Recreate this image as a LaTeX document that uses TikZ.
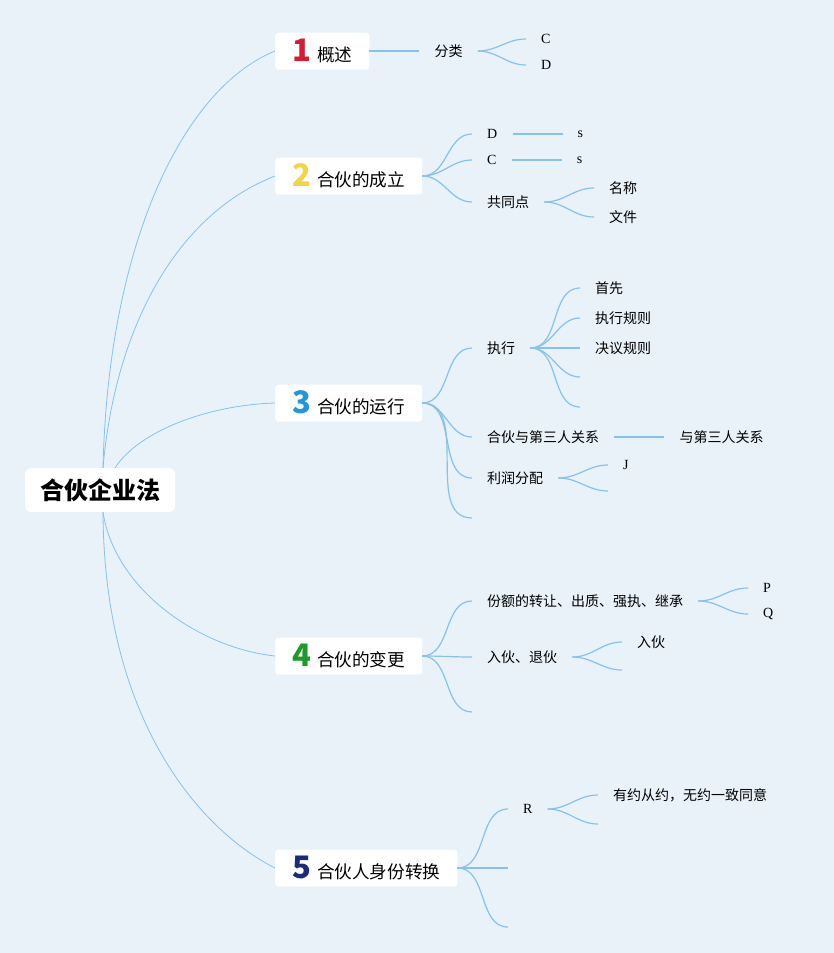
\documentclass[tikz,border=0pt]{standalone}
\usepackage{fontspec}
\setmainfont{Liberation Serif}
\newfontfamily\cjk{Noto Sans CJK SC}
\usepackage{xcolor}
\usetikzlibrary{positioning}
\definecolor{bg}{HTML}{E9F1F9}
\definecolor{linkblue}{HTML}{86C3E8}
\definecolor{numred}{HTML}{D61C33}
\definecolor{numyellow}{HTML}{F3D444}
\definecolor{numblue}{HTML}{2197DC}
\definecolor{numgreen}{HTML}{1E9A2B}
\definecolor{numnavy}{HTML}{1B2B7C}
\tikzstyle{link} = [draw=linkblue, line width=0.8pt]
\tikzstyle{twig} = [draw=linkblue, line width=1.2pt, out=0, in=180]
\newcommand{\topicnum}[2]{\textcolor{#1}{\bfseries\fontsize{31}{31}\selectfont #2}\hspace{6pt}}

\begin{document}
\begin{tikzpicture}[x=1pt,y=-1pt,node distance=50pt,
    root/.style={fill=white, rounded corners=6pt, minimum width=150pt, minimum height=44pt, inner sep=0pt, font=\cjk\bfseries\fontsize{24}{24}\selectfont},
    topic/.style={fill=white, rounded corners=3pt, minimum height=37pt, inner xsep=17pt, inner ysep=0pt, anchor=west, font=\cjk\fontsize{17.6}{18}\selectfont},
    leaf/.style={inner xsep=15pt, inner ysep=0pt, anchor=west, font=\cjk\fontsize{14}{14}\selectfont},
    latin/.style={leaf, font=\fontsize{14}{14}\selectfont}]
    \fill[bg] (0,0) rectangle (834,953);
    % main topics
    \node (root) [root] at (100,490) {合伙企业法};
    \node (b1) [topic] at (275,51) {\topicnum{numred}{1}概述};
    \node (b2) [topic] at (275,176) {\topicnum{numyellow}{2}合伙的成立};
    \node (b3) [topic] at (275,403) {\topicnum{numblue}{3}合伙的运行};
    \node (b4) [topic] at (275,656) {\topicnum{numgreen}{4}合伙的变更};
    \node (b5) [topic] at (275,868) {\topicnum{numnavy}{5}合伙人身份转换};
    % 概述
    \node (fenlei) [leaf, right=50pt of b1] {分类};
    \node (fenC) [latin] at (526,39) {C};
    \node (fenD) [latin] at (526,65) {D};
    % 合伙的成立
    \node (chD) [latin] at (472,134) {D};
    \node (chDs) [latin, right=50pt of chD] {s};
    \node (chC) [latin] at (472,160) {C};
    \node (chCs) [latin, right=50pt of chC] {s};
    \node (gtd) [leaf] at (472,202) {共同点};
    \node (mc) [leaf] at (594,188) {名称};
    \node (wj) [leaf] at (594,217) {文件};
    % 合伙的运行
    \node (zx) [leaf] at (472,348) {执行};
    \node (sx) [leaf] at (580,288) {首先};
    \node (zxgz) [leaf] at (580,318) {执行规则};
    \node (jygz) [leaf] at (580,348) {决议规则};
    \coordinate (zx4) at (580,377);
    \coordinate (zx5) at (580,407);
    \node (dsr) [leaf] at (472,437) {合伙与第三人关系};
    \node (ydsr) [leaf, right=50pt of dsr] {与第三人关系};
    \node (lr) [leaf] at (472,478) {利润分配};
    \node (lrJ) [latin] at (608,465) {J};
    \coordinate (lr2) at (608,491);
    \coordinate (yx4) at (472,518);
    % 合伙的变更
    \node (fe) [leaf] at (472,601) {份额的转让、出质、强执、继承};
    \node (feP) [latin] at (748,588) {P};
    \node (feQ) [latin] at (748,614) {Q};
    \node (rt) [leaf] at (472,657) {入伙、退伙};
    \node (rh) [leaf] at (622,642) {入伙};
    \coordinate (rt2) at (622,670);
    \coordinate (bg3) at (472,712);
    % 合伙人身份转换
    \node (R) [latin] at (508,809) {R};
    \node (yy) [leaf] at (598,795) {有约从约，无约一致同意};
    \coordinate (R2) at (598,824);
    \coordinate (zh2) at (508,868);
    \coordinate (zh3) at (508,927);
    % connect the topics
    \draw[link] ([xshift=3pt]root.north) .. controls +(5,-218) and +(-95,39) .. (b1.west);
    \draw[link] ([xshift=3pt]root.north) .. controls +(12,-138) and +(-100,39) .. (b2.west);
    \draw[link] ([xshift=15pt]root.north) .. controls +(25,-38) and +(-65,2) .. (b3.west);
    \draw[link] ([xshift=3pt]root.south) .. controls +(12,78) and +(-75,-8) .. (b4.west);
    \draw[link] ([xshift=3pt]root.south) .. controls +(1,208) and +(-75,-38) .. (b5.west);
    % connect the subtopics
    \draw[twig] (b1.east) to (fenlei.west);
    \draw[twig] (fenlei.east) to (fenC.west);
    \draw[twig] (fenlei.east) to (fenD.west);
    \draw[twig] (b2.east) to (chD.west);
    \draw[twig] (b2.east) to (chC.west);
    \draw[twig] (b2.east) to (gtd.west);
    \draw[twig] (chD.east) to (chDs.west);
    \draw[twig] (chC.east) to (chCs.west);
    \draw[twig] (gtd.east) to (mc.west);
    \draw[twig] (gtd.east) to (wj.west);
    \draw[twig] (b3.east) to (zx.west);
    \draw[twig] (b3.east) to (dsr.west);
    \draw[twig] (b3.east) to (lr.west);
    \draw[twig] (b3.east) to (yx4);
    \draw[twig] (zx.east) to (sx.west);
    \draw[twig] (zx.east) to (zxgz.west);
    \draw[twig] (zx.east) to (jygz.west);
    \draw[twig] (zx.east) to (zx4);
    \draw[twig] (zx.east) to (zx5);
    \draw[twig] (dsr.east) to (ydsr.west);
    \draw[twig] (lr.east) to (lrJ.west);
    \draw[twig] (lr.east) to (lr2);
    \draw[twig] (b4.east) to (fe.west);
    \draw[twig] (b4.east) to (rt.west);
    \draw[twig] (b4.east) to (bg3);
    \draw[twig] (fe.east) to (feP.west);
    \draw[twig] (fe.east) to (feQ.west);
    \draw[twig] (rt.east) to (rh.west);
    \draw[twig] (rt.east) to (rt2);
    \draw[twig] (b5.east) to (R.west);
    \draw[twig] (b5.east) to (zh2);
    \draw[twig] (b5.east) to (zh3);
    \draw[twig] (R.east) to (yy.west);
    \draw[twig] (R.east) to (R2);
\end{tikzpicture}
\end{document}
